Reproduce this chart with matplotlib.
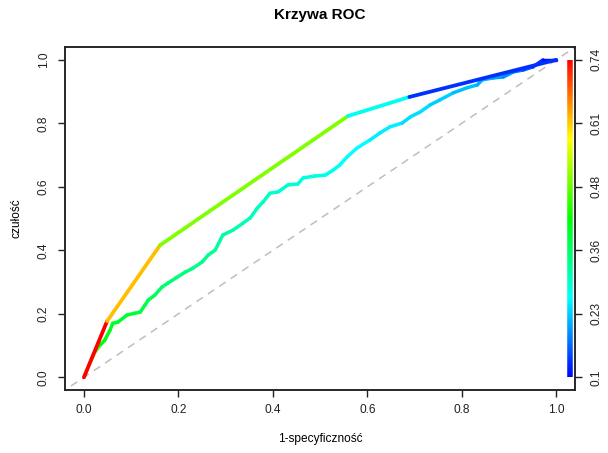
import colorsys
import matplotlib
matplotlib.use('Agg')
import matplotlib.pyplot as plt
from matplotlib.collections import LineCollection

plt.rcParams['font.family'] = ['Liberation Sans', 'DejaVu Sans']

# curve 1 (coarse model) - points and cutoff of each segment
fpr1 = [0.0, 0.049, 0.161, 0.559, 0.689, 1.0]
tpr1 = [0.0, 0.177, 0.416, 0.823, 0.883, 1.0]
cut1 = [0.74, 0.62, 0.50, 0.27, 0.13]

# curve 2 (fine model)
fpr2 = [0.000, 0.013, 0.023, 0.034, 0.044, 0.055, 0.061, 0.072, 0.091, 0.108,
        0.119, 0.129, 0.136, 0.150, 0.165, 0.178, 0.197, 0.214, 0.231, 0.250,
        0.263, 0.278, 0.294, 0.316, 0.337, 0.352, 0.367, 0.379, 0.394, 0.411,
        0.432, 0.453, 0.464, 0.489, 0.511, 0.528, 0.542, 0.557, 0.578, 0.606,
        0.627, 0.648, 0.674, 0.691, 0.712, 0.733, 0.754, 0.782, 0.811, 0.833,
        0.843, 0.867, 0.888, 0.909, 0.930, 0.951, 0.972, 1.000]
tpr2 = [0.000, 0.047, 0.079, 0.101, 0.117, 0.148, 0.170, 0.174, 0.196, 0.202,
        0.205, 0.227, 0.243, 0.259, 0.284, 0.297, 0.315, 0.331, 0.344, 0.363,
        0.385, 0.401, 0.448, 0.464, 0.486, 0.502, 0.533, 0.552, 0.580, 0.584,
        0.606, 0.609, 0.628, 0.634, 0.637, 0.653, 0.669, 0.694, 0.722, 0.748,
        0.770, 0.789, 0.801, 0.820, 0.836, 0.858, 0.874, 0.896, 0.912, 0.921,
        0.937, 0.943, 0.946, 0.962, 0.968, 0.978, 1.000, 1.000]
cut2 = [0.52, 0.50, 0.46, 0.42, 0.41, 0.40, 0.40, 0.39, 0.39, 0.38,
        0.38, 0.37, 0.37, 0.36, 0.35, 0.35, 0.34, 0.34, 0.33, 0.33,
        0.33, 0.32, 0.32, 0.31, 0.31, 0.30, 0.30, 0.30, 0.29, 0.29,
        0.29, 0.28, 0.28, 0.28, 0.27, 0.27, 0.26, 0.26, 0.26, 0.25,
        0.25, 0.25, 0.24, 0.24, 0.24, 0.23, 0.23, 0.22, 0.22, 0.21,
        0.21, 0.20, 0.19, 0.17, 0.15, 0.13, 0.11]

cmin, cmax = 0.1, 0.74
key_labels = ['0.1', '0.23', '0.36', '0.48', '0.61', '0.74']


def rainbow(v):
    # R rainbow(start=0, end=4/6): high cutoff red, low cutoff blue
    t = (v - cmin) / (cmax - cmin)
    t = min(max(t, 0), 1)
    return colorsys.hsv_to_rgb((1 - t) * 4 / 6, 1, 1)


def colored_curve(ax, xs, ys, cuts, lw):
    segs = [[(xs[i], ys[i]), (xs[i + 1], ys[i + 1])] for i in range(len(xs) - 1)]
    lc = LineCollection(segs, colors=[rainbow(c) for c in cuts], linewidths=lw,
                        capstyle='round', joinstyle='round', zorder=3)
    ax.add_collection(lc)


fig = plt.figure(figsize=(6.08, 4.53), dpi=100)
ax = fig.add_axes([0.107, 0.139, 0.839, 0.757])

ax.plot([-0.1, 1.1], [-0.1, 1.1], color='#BEBEBE', lw=1.1, dashes=(5, 4), zorder=1)

colored_curve(ax, fpr2, tpr2, cut2, 2.5)
colored_curve(ax, fpr1, tpr1, cut1, 2.7)

# colour key on the right
n = 256
key_segs = [[(1.03, i / n), (1.03, (i + 1) / n)] for i in range(n)]
key_cols = [rainbow(cmin + (cmax - cmin) * (i + 0.5) / n) for i in range(n)]
ax.add_collection(LineCollection(key_segs, colors=key_cols, linewidths=4,
                                 capstyle='butt', zorder=2))

ax.set_xlim(-0.04, 1.04)
ax.set_ylim(-0.04, 1.04)
ticks = [0, 0.2, 0.4, 0.6, 0.8, 1.0]
ax.set_xticks(ticks)
ax.set_xticklabels(['0.0', '0.2', '0.4', '0.6', '0.8', '1.0'])
ax.set_yticks(ticks)
ax.set_yticklabels(['0.0', '0.2', '0.4', '0.6', '0.8', '1.0'], rotation=90, va='center')
ax.tick_params(direction='out', length=5, width=1, labelsize=8.6, pad=5, colors='#222222')
ax.tick_params(axis='y', pad=6)

ax2 = ax.twinx()
ax2.set_ylim(-0.04, 1.04)
ax2.set_yticks(ticks)
ax2.set_yticklabels(key_labels, rotation=90, va='center')
ax2.tick_params(direction='out', length=5, width=1, labelsize=8.6, pad=6, colors='#222222')

for a in (ax, ax2):
    for s in a.spines.values():
        s.set_linewidth(1.1)
        s.set_color('#222222')

ax.set_xlabel('1-specyficzność', fontsize=8.6, labelpad=12)
ax.set_ylabel('czułość', fontsize=8.6, labelpad=11)
ax.set_title('Krzywa ROC', fontsize=11, fontweight='bold', pad=20)

fig.savefig('out.png', dpi=100)
